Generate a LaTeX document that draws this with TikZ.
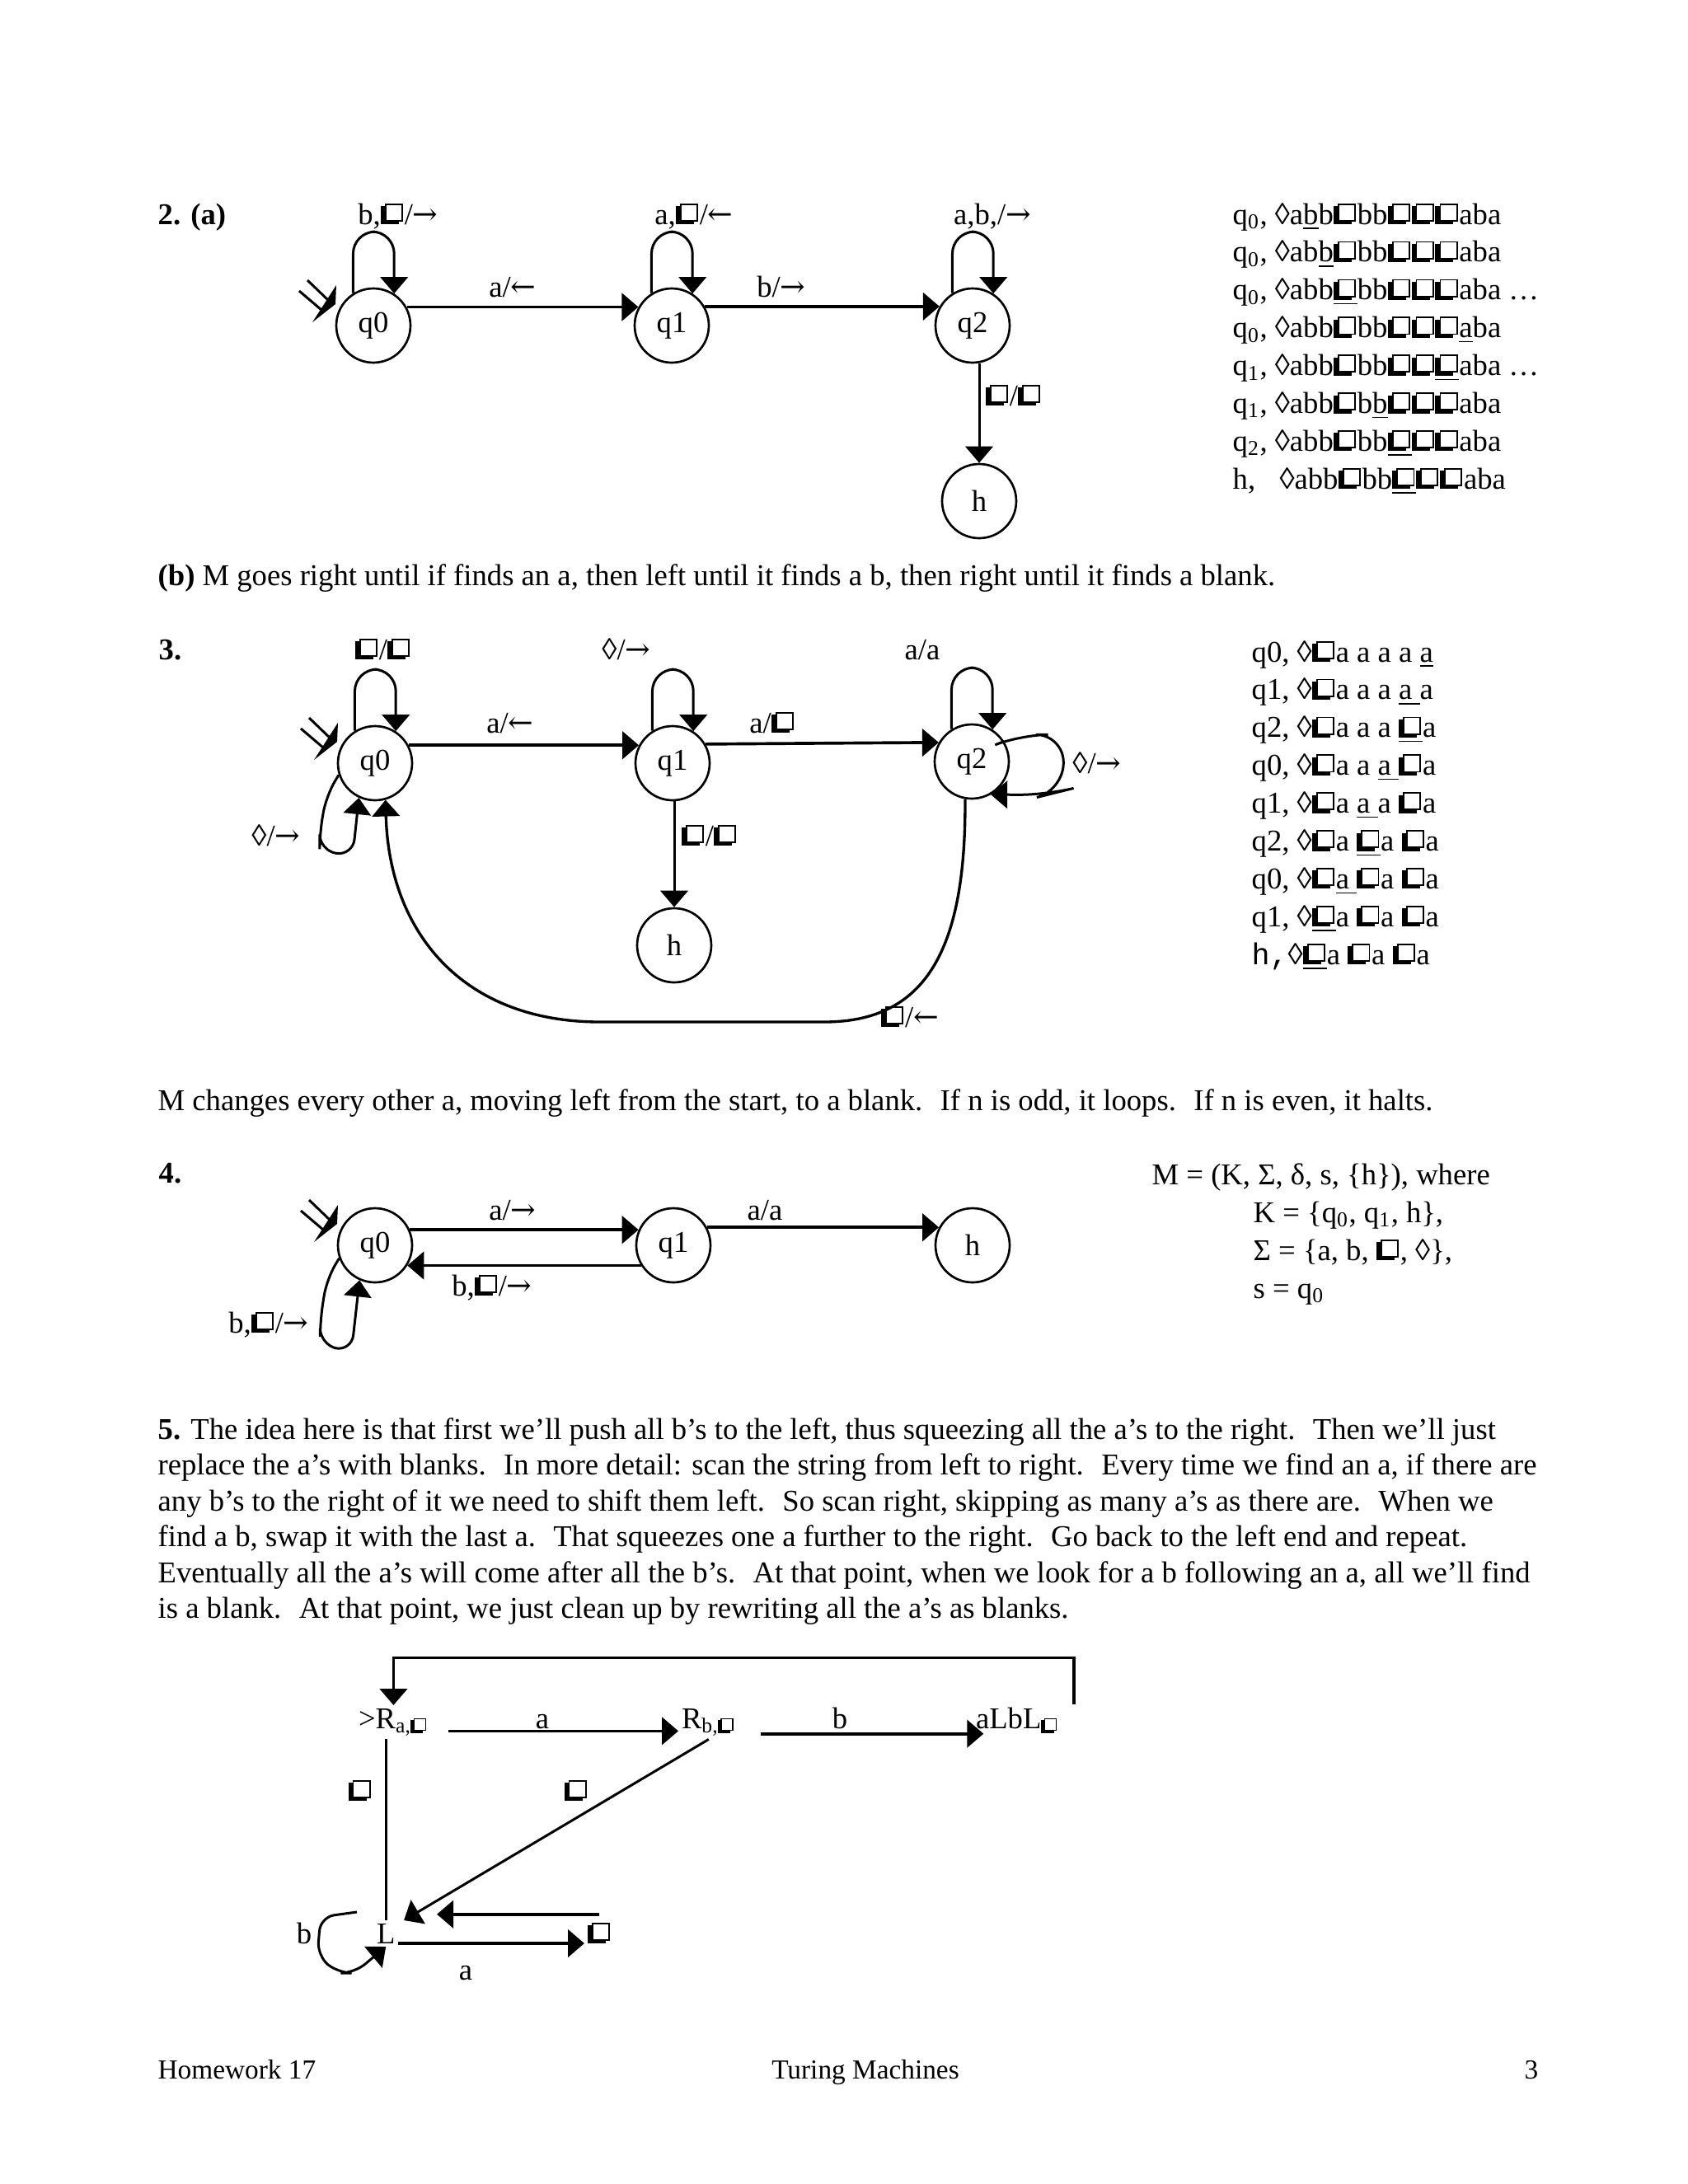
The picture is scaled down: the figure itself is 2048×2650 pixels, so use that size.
\documentclass[tikz,border=0pt]{standalone}
\usepackage{fontspec}
\usepackage{graphicx}
\setmainfont{Liberation Serif}
\setmonofont{Liberation Mono}
\newfontfamily\dvs{DejaVu Serif}
\usetikzlibrary{arrows.meta, calc}
\newcommand\bk{\leavevmode\hbox{%
  \rlap{\vrule width .14em height .6em depth 0pt}%
  \rlap{\vrule width .6em height .14em depth 0pt}%
  \kern.14em\raise.14em\hbox{\fboxsep=0pt\fboxrule=.05em\fbox{\hbox to .5em{\vrule height .5em width 0pt\hfil}}}%
  \kern.05em}}
\newcommand\rarr{{\dvs →}}
\newcommand\larr{{\dvs ←}}
\newcommand\ix[1]{\textsubscript{#1}}
\newcommand\startmark[1]{%
  \draw[line width=0.9pt] ($(#1)+(-80,-55)$) -- ($(#1)+(-54,-30)$)
    ($(#1)+(-90,-42)$) -- ($(#1)+(-63,-19)$);
  \fill ($(#1)+(-45,-49)$) -- ($(#1)+(-46,-26)$) -- ($(#1)+(-74,-4)$) -- cycle;}

\begin{document}
\begin{tikzpicture}[x=0.3pt, y=-0.3pt, font=\fontsize{11}{13.2}\selectfont,
    st/.style={draw, circle, minimum size=27pt, inner sep=0pt, line width=0.8pt},
    txt/.style={anchor=base west, inner sep=0pt},
    lbl/.style={anchor=base, inner sep=0pt},
    mn/.style={anchor=base west, inner sep=1pt},
    arr/.style={-{Triangle[length=6pt,width=10pt]}, line width=1.1pt},
    lp/.style={-{Triangle[length=6pt,width=10pt]}, line width=0.9pt, rounded corners=8pt}]
    \useasboundingbox (0,0) rectangle (2048,2650);

    \node[txt] (hd2) at (191,272) {\textbf{2. (a)}};
    \node[st] (q0a) at (453,395) {q0};
    \node[st] (q1a) at (815,395) {q1};
    \node[st] (q2a) at (1180,395) {q2};
    \node[st] (ha) at (1188,608) {h};
    \startmark{q0a}
    \draw[arr] (q0a.29) -- (q1a.151);
    \draw[arr] (q1a.30) -- (q2a.150);
    \draw[arr, line width=0.9pt] (ha.north |- q2a.south) -- (ha.north);
    \foreach \q in {q0a,q1a,q2a}
        \draw[lp] (\q.122) |- ($(\q.57)+(0,-75)$) -- (\q.57);
    \node[lbl] (l2a) at (483,272) {b,\bk/\rarr};
    \node[lbl] (l2b) at (842,272) {a,\bk/\larr};
    \node[lbl] (l2c) at (1204,272) {a,b,/\rarr};
    \node[lbl] (l2d) at (622,360) {a/\larr};
    \node[lbl] (l2e) at (948,360) {b/\rarr};
    \node[lbl] (l2f) at (1230,492) {\bk/\bk};
    \foreach \s [count=\i from 0] in {
        {q\ix{0}, ◊a\underline{b}b\bk bb\bk\bk\bk aba},
        {q\ix{0}, ◊ab\underline{b}\bk bb\bk\bk\bk aba},
        {q\ix{0}, ◊abb\underline{\bk}bb\bk\bk\bk aba …},
        {q\ix{0}, ◊abb\bk bb\bk\bk\bk\underline{a}ba},
        {q\ix{1}, ◊abb\bk bb\bk\bk\underline{\bk}aba …},
        {q\ix{1}, ◊abb\bk b\underline{b}\bk\bk\bk aba},
        {q\ix{2}, ◊abb\bk bb\underline{\bk}\bk\bk aba},
        {h,\hspace{0.8em}◊abb\bk bb\underline{\bk}\bk\bk aba}}
        \node[txt] (cfa\i) at (1495,{272+45.9*\i}) {\s};
    \node[txt] (partb) at (191,710) {\textbf{(b)} M goes right until if finds an a, then left until it finds a b, then right until it finds a blank.};

    \node[txt] (hd3) at (192,800) {\textbf{3.}};
    \node[st] (q0b) at (455,926) {q0};
    \node[st] (q1b) at (816,926) {q1};
    \node[st] (q2b) at (1179,924) {q2};
    \node[st] (hb) at (818,1147) {h};
    \startmark{q0b}
    \draw[arr] (q0b.28) -- (q1b.152);
    \draw[arr] (q1b.30) -- (q2b.150);
    \draw[arr, line width=0.9pt] (hb.north |- q1b.south) -- (hb.north);
    \foreach \q in {q0b,q1b,q2b}
        \draw[lp] (\q.122) |- ($(\q.57)+(0,-75)$) -- (\q.57);
    \draw[lp, rounded corners=10pt] (q2b.32) -- ++(20,-8) -- ++(52,0) -- ++(0,68) -- ++(-20,5) -- (q2b.-60);
    \draw[lp, rounded corners=6pt] (q0b.198) -- ++(-15,25) -- ++(-8,45) -- ++(0,22) -- ++(40,6) -- (q0b.245);
    \draw[arr, line width=1pt] (q2b.260) .. controls (1172,1150) and (1125,1240) .. (1000,1240) -- (728,1240)
        .. controls (560,1240) and (472,1130) .. (q0b.286);
    \node[lbl] (l3a) at (465,800) {\bk/\bk};
    \node[lbl] (l3b) at (760,800) {◊/\rarr};
    \node[lbl] (l3c) at (1119,800) {a/a};
    \node[lbl] (l3d) at (619,889) {a/\larr};
    \node[lbl] (l3e) at (937,889) {a/\bk};
    \node[lbl] (l3f) at (1331,938) {◊/\rarr};
    \node[lbl] (l3g) at (335,1026) {◊/\rarr};
    \node[lbl] (l3h) at (861,1026) {\bk/\bk};
    \node[lbl] (l3i) at (1104,1246) {\bk/\larr};
    \foreach \s [count=\i from 0] in {
        {q0, ◊\bk a a a a \underline{a}},
        {q1, ◊\bk a a a \underline{a\ }a},
        {q2, ◊\bk a a a \underline{\bk}a},
        {q0, ◊\bk a a \underline{a\ }\bk a},
        {q1, ◊\bk a \underline{a\ }a \bk a},
        {q2, ◊\bk a \underline{\bk}a \bk a},
        {q0, ◊\bk\underline{a\ }\bk a \bk a},
        {q1, ◊\underline{\bk}a \bk a \bk a},
        {\texttt{h,}◊\underline{\bk}a \bk a \bk a}}
        \node[txt] (cfb\i) at (1518,{803+45.9*\i}) {\s};
    \node[txt] (note3) at (191,1347) {M changes every other a, moving left from the start, to a blank.~ If n is odd, it loops.~ If n is even, it halts.};

    \node[txt] (hd4) at (192,1435) {\textbf{4.}};
    \node[st] (q0c) at (455,1511) {q0};
    \node[st] (q1c) at (817,1511) {q1};
    \node[st] (hc) at (1180,1511) {h};
    \startmark{q0c}
    \draw[arr] (q0c.24) -- (q1c.156);
    \draw[arr] (q1c.212) -- (q0c.-32);
    \draw[arr] (q1c.28) -- (hc.152);
    \draw[lp, rounded corners=6pt] (q0c.200) -- ++(-15,25) -- ++(-8,50) -- ++(0,30) -- ++(38,8) -- (q0c.246);
    \node[lbl] (l4a) at (622,1480) {a/\rarr};
    \node[lbl] (l4b) at (928,1480) {a/a};
    \node[lbl] (l4c) at (597,1572) {b,\bk/\rarr};
    \node[lbl] (l4d) at (326,1617) {b,\bk/\rarr};
    \node[txt] (def1) at (1397,1437) {M = (K, Σ, δ, s, \{h\}), where};
    \node[txt] (def2) at (1520,1483) {K = \{q\ix{0}, q\ix{1}, h\},};
    \node[txt] (def3) at (1520,1529) {Σ = \{a, b, \bk, ◊\},};
    \node[txt] (def4) at (1520,1575) {s = q\ix{0}};

    \foreach \s [count=\i from 0] in {
        {\textbf{5.} The idea here is that first we'll push all b's to the left, thus squeezing all the a's to the right.~ Then we'll just},
        {replace the a's with blanks.~ In more detail: scan the string from left to right.~ Every time we find an a, if there are},
        {any b's to the right of it we need to shift them left.~ So scan right, skipping as many a's as there are.~ When we},
        {find a b, swap it with the last a.~ That squeezes one a further to the right.~ Go back to the left end and repeat.},
        {Eventually all the a's will come after all the b's.~ At that point, when we look for a b following an a, all we'll find},
        {is a blank.~ At that point, we just clean up by rewriting all the a's as blanks.}}
        \node[txt] (para\i) at (191,{1746+43.5*\i}) {\s};

    \node[mn] (ra) at (431,2097) {>R\ix{a,\bk}};
    \node[mn] (rb) at (823,2097) {R\ix{b,\bk}};
    \node[mn] (lb) at (1180,2097) {aLbL\ix{\bk}};
    \node[mn] (ln) at (453,2358) {L};
    \node[mn] (bn) at (709,2358) {\bk};
    \draw[arr] ([xshift=6pt,yshift=-1pt]ra.base east) -- ([yshift=-1pt]rb.base west);
    \draw[arr] ([xshift=8pt,yshift=-2pt]rb.base east) -- ([xshift=4pt,yshift=-2pt]lb.base west);
    \draw[arr] ([xshift=4pt]lb.north east) -- ++(0,-56) -| (ra.north);
    \draw[line width=0.9pt] (ln.north |- ra.south) -- (ln.north);
    \draw[arr, line width=0.9pt] (rb.south) -- ([xshift=2pt]ln.north east);
    \draw[arr] (ln.base east) -- (bn.base west);
    \coordinate (bt) at ($(bn.north)+(0,-6)$);
    \draw[arr, shorten >=14pt] (bt) -- (bt -| ln.east);
    \draw[lp, rounded corners=5pt] ([xshift=-6pt,yshift=3pt]ln.north west) -- ++(-44,6) -- ++(-4,47) -- ++(25,21) -- ++(20,0) -- (ln.south);
    \node[lbl] (l5a) at (658,2097) {a};
    \node[lbl] (l5b) at (1019,2097) {b};
    \node[lbl] (l5c) at (437,2185) {\bk};
    \node[lbl] (l5d) at (699,2185) {\bk};
    \node[lbl] (l5e) at (565,2402) {a};
    \node[lbl] (l5f) at (369,2358) {b};

    \node[txt, font=\fontsize{10}{12}\selectfont] (ft1) at (191,2522) {Homework 17};
    \node[lbl, font=\fontsize{10}{12}\selectfont] (ft2) at (1050,2522) {Turing Machines};
    \node[anchor=base east, inner sep=0pt, font=\fontsize{10}{12}\selectfont] (ft3) at (1867,2522) {3};
\end{tikzpicture}
\end{document}
